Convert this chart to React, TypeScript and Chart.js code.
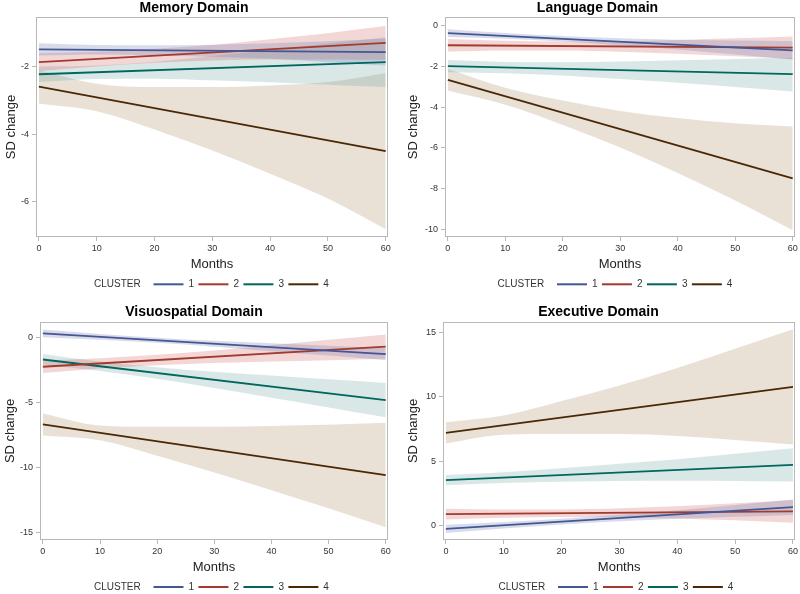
import React, { useEffect, useRef } from 'react';
import { Chart, registerables } from 'chart.js';

Chart.register(...registerables);

const FONT = "'Liberation Sans', Arial, Helvetica, sans-serif";

// ---------- shared axes / legend data ----------
const bandMonths = [0, 10, 20, 30, 40, 50, 60];
const lineMonths = [0, 60];
const xTicks = [0, 10, 20, 30, 40, 50, 60];
const clusterLabels = ['1', '2', '3', '4'];
const lineColors = ['#445694', '#A23A2E', '#01665E', '#4a2806'];
const bandColors = [
  'rgba(111,126,179,0.27)',
  'rgba(208,91,91,0.25)',
  'rgba(102,165,160,0.25)',
  'rgba(169,134,91,0.25)',
];

// ---------- Memory Domain ----------
const memYTicks = [-6, -4, -2];
const mem1Line = [-1.48, -1.56];
const mem1Up = [-1.30, -1.35, -1.36, -1.34, -1.30, -1.24, -1.16];
const mem1Lo = [-1.66, -1.63, -1.66, -1.70, -1.76, -1.86, -1.96];
const mem2Line = [-1.86, -1.29];
const mem2Up = [-1.59, -1.55, -1.46, -1.35, -1.18, -1.00, -0.79];
const mem2Lo = [-2.13, -1.99, -1.88, -1.81, -1.78, -1.78, -1.79];
const mem3Line = [-2.22, -1.86];
const mem3Up = [-1.99, -1.96, -1.85, -1.68, -1.50, -1.31, -1.12];
const mem3Lo = [-2.45, -2.36, -2.35, -2.40, -2.46, -2.53, -2.60];
const mem4Line = [-2.59, -4.50];
const mem4Up = [-2.09, -2.50, -2.60, -2.60, -2.55, -2.45, -2.18];
const mem4Lo = [-3.09, -3.32, -3.86, -4.48, -5.17, -5.91, -6.82];

// ---------- Language Domain ----------
const langYTicks = [-10, -8, -6, -4, -2, 0];
const lang1Line = [-0.35, -1.20];
const lang1Up = [-0.16, -0.35, -0.50, -0.61, -0.68, -0.72, -0.75];
const lang1Lo = [-0.54, -0.63, -0.76, -0.95, -1.16, -1.40, -1.65];
const lang2Line = [-0.95, -1.07];
const lang2Up = [-0.64, -0.73, -0.77, -0.75, -0.69, -0.61, -0.52];
const lang2Lo = [-1.26, -1.21, -1.21, -1.27, -1.37, -1.49, -1.62];
const lang3Line = [-1.98, -2.37];
const lang3Up = [-1.68, -1.77, -1.78, -1.75, -1.69, -1.62, -1.56];
const lang3Lo = [-2.28, -2.33, -2.44, -2.61, -2.79, -3.00, -3.22];
const lang4Line = [-2.65, -7.50];
const lang4Up = [-2.12, -3.04, -3.67, -4.18, -4.53, -4.79, -4.95];
const lang4Lo = [-3.18, -3.88, -4.87, -5.98, -7.23, -8.59, -10.05];

// ---------- Visuospatial Domain ----------
const visYTicks = [-15, -10, -5, 0];
const vis1Line = [0.34, -1.26];
const vis1Up = [0.63, 0.29, 0.01, -0.23, -0.43, -0.61, -0.79];
const vis1Lo = [0.05, -0.15, -0.39, -0.69, -1.03, -1.37, -1.73];
const vis2Line = [-2.23, -0.68];
const vis2Up = [-1.75, -1.57, -1.31, -0.98, -0.58, -0.16, 0.25];
const vis2Lo = [-2.71, -2.37, -2.11, -1.94, -1.82, -1.72, -1.61];
const vis3Line = [-1.67, -4.80];
const vis3Up = [-1.25, -1.83, -2.26, -2.62, -2.91, -3.20, -3.48];
const vis3Lo = [-2.09, -2.55, -3.16, -3.86, -4.61, -5.36, -6.12];
const vis4Line = [-6.67, -10.56];
const vis4Up = [-5.82, -6.75, -6.85, -6.85, -6.78, -6.70, -6.54];
const vis4Lo = [-7.52, -7.89, -9.07, -10.37, -11.74, -13.12, -14.58];

// ---------- Executive Domain ----------
const exYTicks = [0, 5, 10, 15];
const ex1Line = [-0.26, 1.42];
const ex1Up = [0.06, 0.27, 0.52, 0.83, 1.19, 1.60, 2.02];
const ex1Lo = [-0.58, -0.23, 0.08, 0.33, 0.53, 0.68, 0.82];
const ex2Line = [0.88, 1.09];
const ex2Up = [1.30, 1.25, 1.25, 1.34, 1.49, 1.72, 1.97];
const ex2Lo = [0.46, 0.59, 0.65, 0.64, 0.55, 0.40, 0.21];
const ex3Line = [3.52, 4.71];
const ex3Up = [3.92, 4.14, 4.44, 4.79, 5.15, 5.57, 6.00];
const ex3Lo = [3.12, 3.30, 3.40, 3.45, 3.47, 3.45, 3.42];
const ex4Line = [7.20, 10.78];
const ex4Up = [8.03, 8.55, 9.68, 10.88, 12.23, 13.73, 15.26];
const ex4Lo = [6.37, 7.05, 7.10, 7.10, 6.95, 6.65, 6.30];

type PanelCfg = {
  title: string;
  lines: number[][];
  ups: number[][];
  los: number[][];
  yTicks: number[];
  yMin: number;
  yMax: number;
  yWidth: number;
  yTitlePad: number;
  padRight: number;
  row: number;
  left: number;
  top: number;
};

const panels: PanelCfg[] = [
  {
    title: 'Memory Domain',
    lines: [mem1Line, mem2Line, mem3Line, mem4Line],
    ups: [mem1Up, mem2Up, mem3Up, mem4Up],
    los: [mem1Lo, mem2Lo, mem3Lo, mem4Lo],
    yTicks: memYTicks, yMin: -7.05, yMax: -0.52,
    yWidth: 36, yTitlePad: 3.9, padRight: 12, row: 0, left: 0, top: 0,
  },
  {
    title: 'Language Domain',
    lines: [lang1Line, lang2Line, lang3Line, lang4Line],
    ups: [lang1Up, lang2Up, lang3Up, lang4Up],
    los: [lang1Lo, lang2Lo, lang3Lo, lang4Lo],
    yTicks: langYTicks, yMin: -10.38, yMax: 0.44,
    yWidth: 45, yTitlePad: 5.5, padRight: 5, row: 0, left: 400, top: 0,
  },
  {
    title: 'Visuospatial Domain',
    lines: [vis1Line, vis2Line, vis3Line, vis4Line],
    ups: [vis1Up, vis2Up, vis3Up, vis4Up],
    los: [vis1Lo, vis2Lo, vis3Lo, vis4Lo],
    yTicks: visYTicks, yMin: -15.56, yMax: 1.23,
    yWidth: 40, yTitlePad: 2.2, padRight: 12, row: 1, left: 0, top: 297,
  },
  {
    title: 'Executive Domain',
    lines: [ex1Line, ex2Line, ex3Line, ex4Line],
    ups: [ex1Up, ex2Up, ex3Up, ex4Up],
    los: [ex1Lo, ex2Lo, ex3Lo, ex4Lo],
    yTicks: exYTicks, yMin: -1.13, yMax: 15.83,
    yWidth: 43, yTitlePad: 5.5, padRight: 3, row: 1, left: 400, top: 297,
  },
];

const rowLayout = [
  { padTop: 0, titlePadBottom: 0.2, xHeight: 37.9, xTitlePadBottom: 2.8, padBottom: 6.1 },
  { padTop: 7, titlePadBottom: 1, xHeight: 37.6, xTitlePadBottom: 2.1, padBottom: 0.4 },
];

const framePlugin = {
  id: 'frame',
  afterDatasetsDraw(chart: any) {
    const { ctx, chartArea } = chart;
    const { left, top, right, bottom } = chartArea;
    ctx.save();
    ctx.strokeStyle = '#b8b8b8';
    ctx.lineWidth = 1;
    ctx.strokeRect(Math.round(left) + 0.5, Math.round(top) + 0.5, Math.round(right - left) - 1, Math.round(bottom - top) - 1);
    ctx.restore();
  },
};

function buildDatasets(cfg: PanelCfg) {
  const ds: any[] = [];
  cfg.lines.forEach((l, i) => {
    ds.push({
      label: clusterLabels[i],
      data: lineMonths.map((m, j) => ({ x: m, y: l[j] })),
      borderColor: lineColors[i],
      borderWidth: 1.8,
      pointRadius: 0,
      fill: false,
      tension: 0,
    });
  });
  cfg.ups.forEach((u, i) => {
    ds.push({
      label: 'band' + clusterLabels[i] + 'u',
      data: bandMonths.map((m, j) => ({ x: m, y: u[j] })),
      borderColor: 'rgba(0,0,0,0)',
      borderWidth: 0,
      backgroundColor: bandColors[i],
      pointRadius: 0,
      fill: '+1',
      cubicInterpolationMode: 'monotone',
    });
    ds.push({
      label: 'band' + clusterLabels[i] + 'l',
      data: bandMonths.map((m, j) => ({ x: m, y: cfg.los[i][j] })),
      borderColor: 'rgba(0,0,0,0)',
      borderWidth: 0,
      backgroundColor: 'rgba(0,0,0,0)',
      pointRadius: 0,
      fill: false,
      cubicInterpolationMode: 'monotone',
    });
  });
  return ds;
}

function Panel({ cfg }: { cfg: PanelCfg }) {
  const ref = useRef<HTMLCanvasElement | null>(null);
  useEffect(() => {
    if (!ref.current) return;
    const rl = rowLayout[cfg.row];
    const chart = new Chart(ref.current, {
      type: 'line',
      data: { datasets: buildDatasets(cfg) },
      plugins: [framePlugin],
      options: {
        animation: false,
        responsive: false,
        devicePixelRatio: 1,
        layout: { padding: { top: rl.padTop, bottom: rl.padBottom, left: 0, right: cfg.padRight } },
        plugins: {
          tooltip: { enabled: false },
          title: {
            display: true,
            text: cfg.title,
            color: '#000',
            font: { family: FONT, size: 14, weight: 'bold' },
            padding: { top: 0, bottom: rl.titlePadBottom },
          },
          legend: {
            position: 'bottom',
            maxHeight: 16,
            onClick: () => {},
            labels: {
              boxWidth: 30,
              boxHeight: 2,
              padding: 4.4,
              color: '#333',
              font: { family: FONT, size: 10 },
              generateLabels: () => [
                {
                  text: 'CLUSTER   ',
                  fillStyle: 'rgba(0,0,0,0)',
                  strokeStyle: 'rgba(0,0,0,0)',
                  lineWidth: 0,
                  hidden: false,
                  fontColor: '#333',
                },
                ...clusterLabels.map((t, i) => ({
                  text: t,
                  fillStyle: lineColors[i],
                  strokeStyle: lineColors[i],
                  lineWidth: 0,
                  hidden: false,
                  datasetIndex: i,
                  fontColor: '#333',
                })),
              ],
            },
          },
        },
        scales: {
          x: {
            type: 'linear',
            min: -0.5,
            max: 60.4,
            afterBuildTicks: (s: any) => {
              s.ticks = xTicks.map((v) => ({ value: v }));
            },
            afterFit: (s: any) => {
              s.height = rl.xHeight;
            },
            ticks: { color: '#333', font: { family: FONT, size: 9 }, padding: 2, maxRotation: 0, autoSkip: false },
            grid: { display: true, drawOnChartArea: false, drawTicks: true, tickLength: 4, color: '#b8b8b8' },
            border: { display: false },
            title: {
              display: true,
              text: 'Months',
              color: '#222',
              font: { family: FONT, size: 13 },
              padding: { top: 2, bottom: rl.xTitlePadBottom },
            },
          },
          y: {
            type: 'linear',
            min: cfg.yMin,
            max: cfg.yMax,
            afterBuildTicks: (s: any) => {
              s.ticks = cfg.yTicks.map((v) => ({ value: v }));
            },
            afterFit: (s: any) => {
              s.width = cfg.yWidth;
            },
            ticks: { color: '#333', font: { family: FONT, size: 9 }, padding: 3, autoSkip: false },
            grid: { display: true, drawOnChartArea: false, drawTicks: true, tickLength: 4, color: '#b8b8b8' },
            border: { display: false },
            title: {
              display: true,
              text: 'SD change',
              color: '#222',
              font: { family: FONT, size: 13 },
              padding: { top: cfg.yTitlePad, bottom: 0 },
            },
          },
        },
      } as any,
    });
    return () => chart.destroy();
  }, [cfg]);
  return (
    <canvas
      ref={ref}
      width={400}
      height={297}
      style={{ position: 'absolute', left: cfg.left, top: cfg.top, width: 400, height: 297 }}
    />
  );
}

export default function App() {
  return (
    <div
      style={{
        position: 'fixed',
        left: 0,
        top: 0,
        width: 800,
        height: 594,
        overflow: 'hidden',
        background: '#fff',
      }}
    >
      {panels.map((p) => (
        <Panel key={p.title} cfg={p} />
      ))}
    </div>
  );
}
